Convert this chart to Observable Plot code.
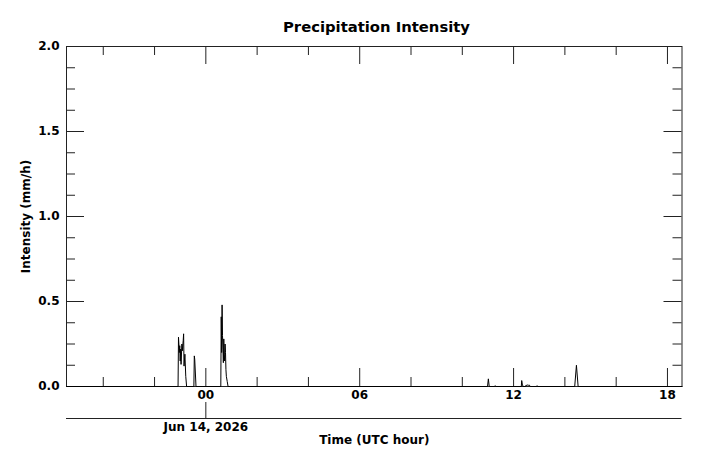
<!DOCTYPE html>
<html>
<head>
<meta charset="utf-8">
<script src="https://cdn.jsdelivr.net/npm/d3@7"></script>
<script src="https://cdn.jsdelivr.net/npm/@observablehq/plot@0.6"></script>
<style>
  body { margin: 0; background: #fff; font-family: "DejaVu Sans", sans-serif; }
  #title { height: 18px; padding-top: 18px; line-height: 18px; font-weight: bold; font-size: 14.8px;
           text-align: center; padding-left: 71px; padding-right: 21px; width: 611px; color: #000; }
</style>
</head>
<body>
<div id="title">Precipitation Intensity</div>
<div id="chart"></div>
<script>
// ---- data ----
const times = [
  "2026-06-13T18:34Z",
  "2026-06-13T22:55Z", "2026-06-13T22:56Z", "2026-06-13T22:58Z", "2026-06-13T22:59Z", "2026-06-13T23:00Z",
  "2026-06-13T23:01Z", "2026-06-13T23:02Z", "2026-06-13T23:04Z", "2026-06-13T23:05Z", "2026-06-13T23:07Z",
  "2026-06-13T23:08Z", "2026-06-13T23:09Z", "2026-06-13T23:11Z", "2026-06-13T23:13Z", "2026-06-13T23:15Z",
  "2026-06-13T23:32Z", "2026-06-13T23:33Z", "2026-06-13T23:34Z", "2026-06-13T23:37Z",
  "2026-06-14T00:35Z", "2026-06-14T00:36Z", "2026-06-14T00:37Z", "2026-06-14T00:38Z", "2026-06-14T00:39Z",
  "2026-06-14T00:40Z", "2026-06-14T00:41Z", "2026-06-14T00:42Z", "2026-06-14T00:43Z", "2026-06-14T00:44Z",
  "2026-06-14T00:45Z", "2026-06-14T00:46Z", "2026-06-14T00:47Z", "2026-06-14T00:48Z", "2026-06-14T00:50Z",
  "2026-06-14T00:52Z",
  "2026-06-14T10:59Z", "2026-06-14T11:01Z", "2026-06-14T11:03Z",
  "2026-06-14T11:16Z", "2026-06-14T11:17Z", "2026-06-14T11:18Z",
  "2026-06-14T12:18Z", "2026-06-14T12:19Z", "2026-06-14T12:20Z", "2026-06-14T12:21Z", "2026-06-14T12:22Z",
  "2026-06-14T12:28Z", "2026-06-14T12:29Z", "2026-06-14T12:31Z", "2026-06-14T12:33Z", "2026-06-14T12:35Z",
  "2026-06-14T12:37Z", "2026-06-14T12:39Z", "2026-06-14T12:54Z", "2026-06-14T12:55Z", "2026-06-14T12:56Z",
  "2026-06-14T14:23Z", "2026-06-14T14:27Z", "2026-06-14T14:31Z",
  "2026-06-14T18:34Z"
];
const intensity = [
  0,
  0, 0.29, 0.20, 0.24, 0.15,
  0.22, 0.13, 0.25, 0.21, 0.27,
  0.31, 0.12, 0.19, 0.06, 0,
  0, 0.18, 0.16, 0,
  0, 0.41, 0.20, 0.48, 0.30,
  0.22, 0.14, 0.28, 0.19, 0.15,
  0.25, 0.20, 0.10, 0.06, 0.03,
  0,
  0, 0.045, 0,
  0, 0.005, 0,
  0, 0.035, 0.02, 0.01, 0,
  0, 0.008, 0.006, 0.009, 0.007,
  0.008, 0, 0, 0.005, 0,
  0, 0.125, 0,
  0
];
const xDomain = ["2026-06-13T18:34Z", "2026-06-14T18:34Z"];
const xMajorTicks = ["2026-06-14T00:00Z", "2026-06-14T06:00Z", "2026-06-14T12:00Z", "2026-06-14T18:00Z"];
const xMajorLabels = ["00", "06", "12", "18"];
const xMinorTicks = ["2026-06-13T20:00Z", "2026-06-13T22:00Z", "2026-06-14T02:00Z", "2026-06-14T04:00Z",
                     "2026-06-14T08:00Z", "2026-06-14T10:00Z", "2026-06-14T14:00Z", "2026-06-14T16:00Z"];
const yMajorTicks = [0, 0.5, 1.0, 1.5, 2.0];
const yMajorLabels = ["0.0", "0.5", "1.0", "1.5", "2.0"];
const yMinorTicks = [0.125, 0.25, 0.375, 0.625, 0.75, 0.875, 1.125, 1.25, 1.375, 1.625, 1.75, 1.875];
const dateTick = ["2026-06-14T00:00Z"];
const dateLabel = ["Jun 14, 2026"];
const xLabel = "Time (UTC hour)";
const yLabel = "Intensity (mm/h)";

// ---- build ----
const data = times.map((t, i) => ({t: new Date(t), v: intensity[i]}));
const D = s => new Date(s);
const frameW = 615.5, frameH = 340;
const axisColor = "#222";
const font = {fontFamily: "DejaVu Sans", fontWeight: "bold", fill: "#000"};

const chart = Plot.plot({
  width: 703,
  height: 431,
  marginTop: 10,
  marginLeft: 66,
  marginRight: 21.5,
  marginBottom: 81,
  style: {fontFamily: "DejaVu Sans", background: "white"},
  x: {type: "utc", domain: xDomain.map(D), axis: null},
  y: {domain: [0, 2], axis: null},
  marks: [
    Plot.frame({stroke: axisColor, strokeWidth: 1}),
    // x ticks, bottom and top, inward
    Plot.tickX(xMajorTicks.map(D), {x: d => d, insetTop: frameH - 18, stroke: axisColor}),
    Plot.tickX(xMajorTicks.map(D), {x: d => d, insetBottom: frameH - 18, stroke: axisColor}),
    Plot.tickX(xMinorTicks.map(D), {x: d => d, insetTop: frameH - 9, stroke: axisColor}),
    Plot.tickX(xMinorTicks.map(D), {x: d => d, insetBottom: frameH - 9, stroke: axisColor}),
    // y ticks, left and right, inward
    Plot.tickY(yMajorTicks, {y: d => d, insetRight: frameW - 18, stroke: axisColor}),
    Plot.tickY(yMajorTicks, {y: d => d, insetLeft: frameW - 18, stroke: axisColor}),
    Plot.tickY(yMinorTicks, {y: d => d, insetRight: frameW - 9, stroke: axisColor}),
    Plot.tickY(yMinorTicks, {y: d => d, insetLeft: frameW - 9, stroke: axisColor}),
    // data
    Plot.line(data, {x: "t", y: "v", stroke: "#000", strokeWidth: 1}),
    // tick labels
    Plot.text(xMajorTicks.map(D), {x: d => d, text: (d, i) => xMajorLabels[i], frameAnchor: "bottom",
      dy: 9, lineAnchor: "middle", fontSize: 12, ...font}),
    Plot.text(yMajorTicks, {y: d => d, text: (d, i) => yMajorLabels[i], frameAnchor: "left",
      dx: -7, textAnchor: "end", lineAnchor: "middle", fontSize: 12, ...font}),
    // secondary date axis
    Plot.ruleY([0], {dy: 32, stroke: axisColor}),
    Plot.tickX(dateTick.map(D), {x: d => d, insetTop: frameH - 16, dy: 32, stroke: axisColor}),
    Plot.text(dateTick.map(D), {x: d => d, text: (d, i) => dateLabel[i], frameAnchor: "bottom",
      dy: 41, lineAnchor: "middle", fontSize: 12, ...font}),
    // axis titles
    Plot.text([xLabel], {text: d => d, frameAnchor: "bottom", dy: 54, lineAnchor: "middle", fontSize: 12, ...font}),
    Plot.text([yLabel], {text: d => d, frameAnchor: "left", dx: -40, rotate: -90, textAnchor: "middle",
      lineAnchor: "middle", fontSize: 12, ...font})
  ]
});
document.getElementById("chart").appendChild(chart);
</script>
</body>
</html>
